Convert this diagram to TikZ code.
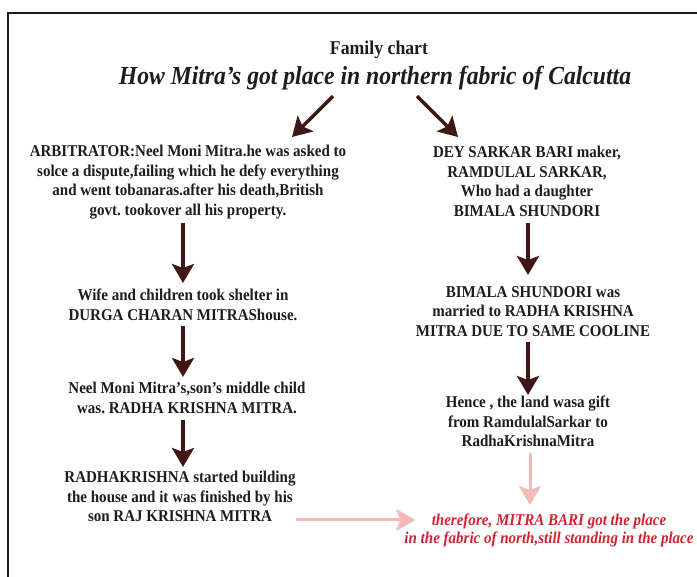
\documentclass[tikz,border=0pt]{standalone}
\usepackage{fontspec}
\setmainfont{Liberation Serif}[FakeStretch=0.91]
\usetikzlibrary{arrows.meta}

\definecolor{inkdark}{RGB}{30,28,28}
\definecolor{arrowbrown}{RGB}{64,22,22}
\definecolor{arrowpink}{RGB}{244,186,186}
\definecolor{notered}{RGB}{206,36,48}

\tikzset{
    note/.style={align=center,inner sep=0pt,anchor=north,text=inkdark,
        font=\bfseries\fontsize{16.5}{19.5}\selectfont},
    flow/.style={draw=arrowbrown,line width=3.5pt,
        -{Stealth[length=19pt,width=22pt,inset=4pt]}},
    flowpink/.style={flow,draw=arrowpink,line width=3pt},
}

\newcommand{\Drop}[6][flow]{%
    \draw[#1,shorten <=#5pt,shorten >=#6pt] (#2.south -| #4) -- (#3.north -| #4);
}

\begin{document}
\frenchspacing
\begin{tikzpicture}[x=1pt,y=-1pt]
        \useasboundingbox (0,0) rectangle (697,577);
        \draw[inkdark,line width=1.5pt] (697,13) -- (8,13) -- (8,577);
        \coordinate (lcol) at (183,0);
        \coordinate (rcol) at (528,0);
        \coordinate (pcol) at (530,0);
        \coordinate (prow) at (0,520);
        \node (fam) [anchor=base,text=inkdark,font=\bfseries\fontsize{19.5}{22}\selectfont] at (379,55) {Family chart};
        \node (title) [anchor=base,text=inkdark,font=\bfseries\itshape\fontsize{26}{30}\selectfont] at (375,85) {How Mitra’s got place in northern fabric of Calcutta};
        % left column
        \node (arb) [note] at (188,145) {ARBITRATOR:Neel Moni Mitra.he was asked to\\solce a dispute,failing which he defy everything\\and went tobanaras.after his death,British\\govt. tookover all his property.};
        \node (wife) [note] at (183,289) {Wife and children took shelter in\\DURGA CHARAN MITRAShouse.};
        \node (neel) [note] at (187,382) {Neel Moni Mitra's,son's middle child\\was. RADHA KRISHNA MITRA.};
        \node (radha) [note] at (180,471) {RADHAKRISHNA started building\\the house and it was finished by his\\son RAJ KRISHNA MITRA};
        % right column
        \node (dey) [note] at (527,146) {DEY SARKAR BARI maker,\\RAMDULAL SARKAR,\\Who had a daughter\\BIMALA SHUNDORI};
        \node (bimala) [note] at (533,286) {BIMALA SHUNDORI was\\married to RADHA KRISHNA\\MITRA DUE TO SAME COOLINE};
        \node (hence) [note] at (528,396) {Hence , the land wasa gift\\from RamdulalSarkar to\\RadhaKrishnaMitra};
        \node (therefore) [note,text=notered,font=\bfseries\itshape\fontsize{16.5}{18}\selectfont] at (549,514) {therefore, MITRA BARI got the place\\in the fabric of north,still standing in the place};
        \draw[flow] ([xshift=-42pt,yshift=-2pt]title.south) -- ([xshift=104pt,yshift=8pt]arb.north);
        \draw[flow] ([xshift=42pt,yshift=-2pt]title.south) -- ([xshift=-69pt,yshift=9pt]dey.north);
        \Drop{arb}{wife}{lcol}{4}{6};
        \Drop{wife}{neel}{lcol}{5}{5};
        \Drop{neel}{radha}{lcol}{6}{4};
        \Drop{dey}{bimala}{rcol}{6}{11};
        \Drop{bimala}{hence}{rcol}{6}{1};
        \Drop[flowpink]{hence}{therefore}{pcol}{6}{9};
        \draw[flowpink,shorten >=-11pt] (radha.east |- prow) -- (therefore.west |- prow);
\end{tikzpicture}
\end{document}
